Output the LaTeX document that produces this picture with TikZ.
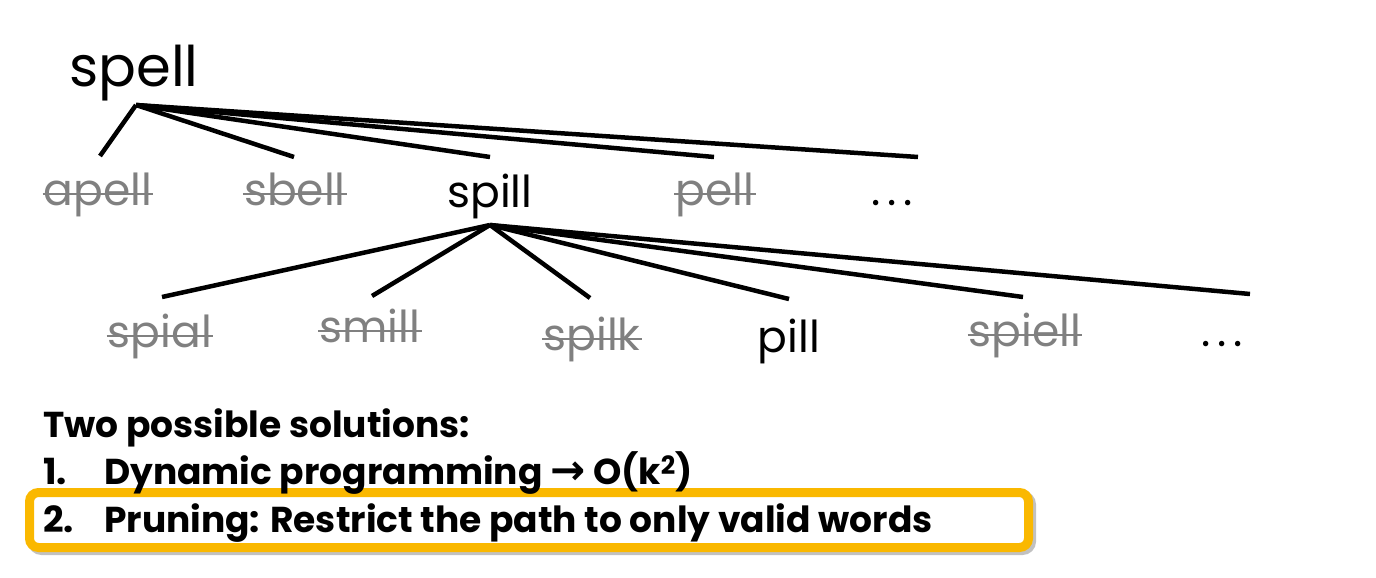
\documentclass[tikz,border=0pt]{standalone}
\usepackage{fontspec}
\setmainfont{Poppins}
\newfontfamily\arrowfont{DejaVu Sans}
\usetikzlibrary{shadows}
\definecolor{strikegray}{RGB}{128,128,128}
\definecolor{boxorange}{RGB}{250,184,0}

\begin{document}
\begin{tikzpicture}[
    x=1pt, y=-1pt,
    branch/.style={line width=4.5pt},
    word/.style={anchor=base, font=\fontsize{44}{48}\selectfont, inner sep=1pt},
    pruned/.style={word, text=strikegray},
    strike/.style={draw=strikegray, line width=2.5pt},
    textline/.style={anchor=base west, font=\bfseries\fontsize{36}{40}\selectfont, inner sep=0pt},
    pickbox/.style={draw=boxorange, line width=9pt, fill=white, rounded corners=9pt,
      minimum width=999pt, minimum height=55pt,
      drop shadow={fill=black!30, draw=black!30, line width=9pt, opacity=0.8,
        shadow xshift=3pt, shadow yshift=-3pt}}
  ]
  \useasboundingbox (0,0) rectangle (1376,578);

  % the tree
  \node[word, font=\fontsize{56}{60}\selectfont] (spell) at (134,87) {spell};
  \node[pruned] (apell) at (98,205) {apell};
  \node[pruned] (sbell) at (295,205) {sbell};
  \node[word] (spill) at (490,207) {spill};
  \node[pruned] (pell) at (715,205) {pell};
  \node[word] (dots1) at (892,205) {.\hspace{7pt}.\hspace{7pt}.};

  \node[pruned] (spial) at (160,347) {spial};
  \node[pruned] (smill) at (370,342) {smill};
  \node[pruned] (spilk) at (592,350) {spilk};
  \node[word] (pill) at (789,352) {pill};
  \node[pruned] (spiell) at (1025,346) {spiell};
  \node[word] (dots2) at (1222,346) {.\hspace{7pt}.\hspace{7pt}.};

  \foreach \w in {apell,sbell,pell,spial,smill,spilk,spiell}
    \draw[strike] ([yshift=11pt]\w.base west) -- ([yshift=11pt]\w.base east);

  \coordinate (spell-hub) at (136,105);
  \coordinate (spill-hub) at (490,225);
  \foreach \n/\x/\y in {apell/100/156, sbell/294/157, spill/490/157, pell/714/157, dots1/918/157}{
    \coordinate (to-\n) at (\x,\y);
    \draw[branch] (spell-hub) -- (to-\n);
  }
  \foreach \n/\x/\y in {spial/162/297, smill/372/296, spilk/590/298, pill/789/299, spiell/1023/297, dots2/1250/294}{
    \coordinate (to-\n) at (\x,\y);
    \draw[branch] (spill-hub) -- (to-\n);
  }

  % the two solutions
  \node[pickbox] (pick) at (529,520) {};
  \node[textline] (intro) at (43,437) {Two possible solutions:};
  \node[textline] (sol1) at (43,484)
    {\makebox[61pt][l]{1.}Dynamic programming {\arrowfont\bfseries\fontsize{42}{42}\selectfont →} O(k\textsuperscript{2})};
  \node[textline] (sol2) at (43,532)
    {\makebox[61pt][l]{2.}Pruning: Restrict the path to only valid words};
\end{tikzpicture}
\end{document}
